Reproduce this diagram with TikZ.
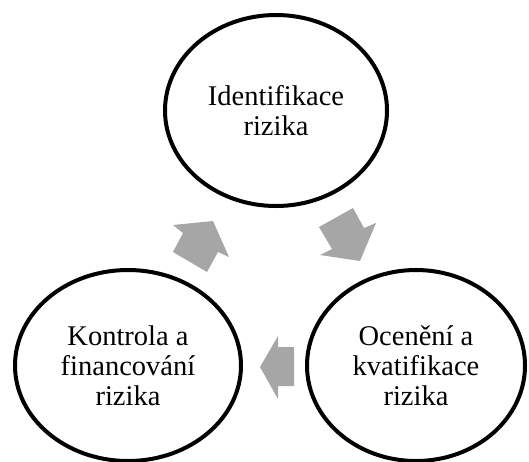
\documentclass[tikz,border=0pt]{standalone}
\usepackage{fontspec}
\setmainfont{Liberation Serif}
\usetikzlibrary{shapes.geometric}
\definecolor{arrowgray}{RGB}{166,166,166}
\tikzset{
  stage/.style={ellipse, draw=black, line width=4pt, fill=white,
    inner sep=0pt, outer sep=0pt, align=center,
    font=\fontsize{28.5}{30}\selectfont},
  blockarrow/.style={fill=arrowgray, draw=none}
}
\begin{document}
\begin{tikzpicture}[x=1pt,y=-1pt]
  \useasboundingbox (0,0) rectangle (529,461);
  % the three stages of the cycle
  \node[stage, minimum width=222pt, minimum height=191pt] (ident) at (276,110.5)
    {Identifikace\\rizika};
  \node[stage, minimum width=226pt, minimum height=191pt] (kontrola) at (128,365.5)
    {Kontrola a\\financování\\rizika};
  \node[stage, minimum width=218pt, minimum height=191pt] (oceneni) at (416,365.5)
    {Ocenění a\\kvatifikace\\rizika};
  % block arrows running clockwise between the stages
  \fill[blockarrow] (353,208) -- (319,227) -- (332,249) -- (320,255)
    -- (360,261) -- (376,223) -- (364,228) -- cycle;
  \fill[blockarrow] (294,347) -- (278,347) -- (278,336) -- (260,367)
    -- (278,399) -- (278,386) -- (294,386) -- cycle;
  \fill[blockarrow] (207,272) -- (173,252) -- (183,233) -- (173,225)
    -- (213,221) -- (229,257) -- (218,252) -- cycle;
\end{tikzpicture}
\end{document}
